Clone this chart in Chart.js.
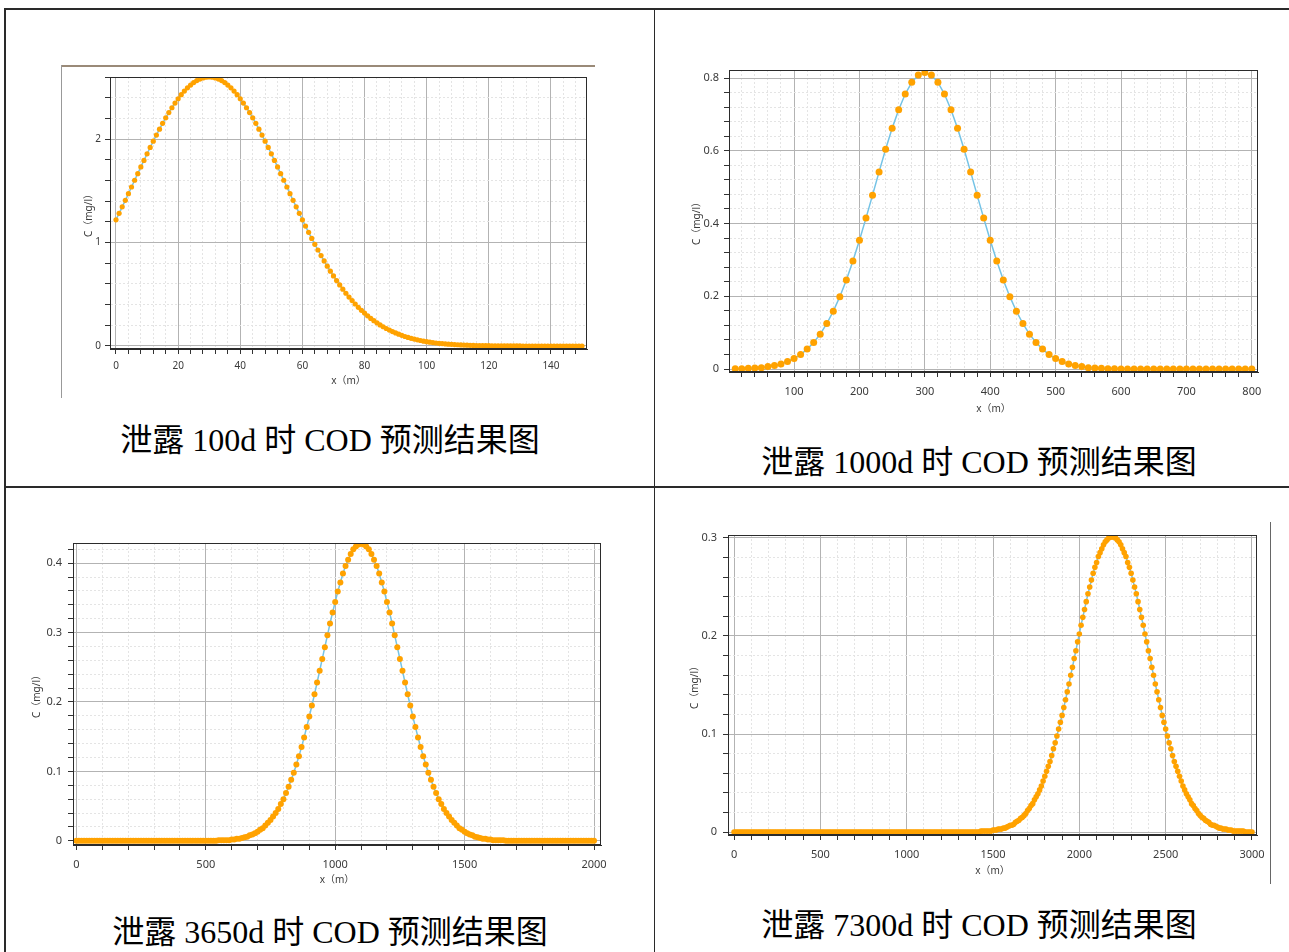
<!DOCTYPE html>
<html><head><meta charset="utf-8">
<script src="https://cdn.jsdelivr.net/npm/chart.js@4.4.1/dist/chart.umd.min.js"></script>
<style>
html,body{margin:0;padding:0;background:#fff;}
body{width:1289px;height:952px;position:relative;overflow:hidden;}
.ln{position:absolute;background:#2a2a2a;}
canvas{position:absolute;}
.cap{position:absolute;text-align:center;font-family:"Liberation Serif","Noto Sans CJK SC",serif;font-size:32px;line-height:40px;color:#000;white-space:nowrap;}
</style></head><body>
<div class="ln" style="left:4px;top:8px;width:1285px;height:2px;"></div>
<div class="ln" style="left:4px;top:8px;width:2px;height:944px;"></div>
<div class="ln" style="left:654px;top:8px;width:1px;height:944px;"></div>
<div class="ln" style="left:4px;top:486px;width:1285px;height:2px;"></div>
<div class="ln" style="left:61px;top:65px;width:534px;height:1.5px;background:#9a8a78;"></div>
<div class="ln" style="left:61px;top:65px;width:1px;height:333px;background:#999;"></div>
<div class="ln" style="left:1270px;top:522px;width:1px;height:362px;background:#666;"></div>

<canvas id="c1"></canvas>
<canvas id="c2"></canvas>
<canvas id="c3"></canvas>
<canvas id="c4"></canvas>

<div class="cap" style="left:5px;width:650px;top:420px;">泄露 100d 时 COD 预测结果图</div>
<div class="cap" style="left:655px;width:648px;top:442px;">泄露 1000d 时 COD 预测结果图</div>
<div class="cap" style="left:5px;width:650px;top:912px;">泄露 3650d 时 COD 预测结果图</div>
<div class="cap" style="left:655px;width:648px;top:905px;">泄露 7300d 时 COD 预测结果图</div>

<script>
// ---------- data: leakage 100 d ----------
const x100d = [
0,1,2,3,4,5,6,7,8,9,
10,11,12,13,14,15,16,17,18,19,
20,21,22,23,24,25,26,27,28,29,
30,31,32,33,34,35,36,37,38,39,
40,41,42,43,44,45,46,47,48,49,
50,51,52,53,54,55,56,57,58,59,
60,61,62,63,64,65,66,67,68,69,
70,71,72,73,74,75,76,77,78,79,
80,81,82,83,84,85,86,87,88,89,
90,91,92,93,94,95,96,97,98,99,
100,101,102,103,104,105,106,107,108,109,
110,111,112,113,114,115,116,117,118,119,
120,121,122,123,124,125,126,127,128,129,
130,131,132,133,134,135,136,137,138,139,
140,141,142,143,144,145,146,147,148,149,
150];
const c100d = [
1.220,1.282,1.345,1.408,1.472,1.537,1.602,1.666,1.731,1.794,
1.857,1.919,1.980,2.039,2.096,2.152,2.205,2.256,2.303,2.348,
2.390,2.429,2.464,2.495,2.522,2.546,2.565,2.580,2.591,2.598,
2.600,2.598,2.591,2.580,2.565,2.546,2.522,2.495,2.464,2.429,
2.390,2.348,2.303,2.256,2.205,2.152,2.096,2.039,1.980,1.919,
1.857,1.794,1.731,1.666,1.602,1.537,1.472,1.408,1.345,1.282,
1.220,1.159,1.099,1.040,0.983,0.928,0.874,0.822,0.772,0.723,
0.677,0.632,0.590,0.549,0.510,0.473,0.439,0.406,0.374,0.345,
0.318,0.292,0.267,0.245,0.224,0.204,0.186,0.169,0.154,0.139,
0.126,0.114,0.103,0.092,0.083,0.074,0.067,0.060,0.053,0.047,
0.042,0.037,0.033,0.029,0.026,0.023,0.020,0.018,0.016,0.014,
0.012,0.010,0.009,0.008,0.007,0.006,0.005,0.004,0.004,0.003,
0.003,0.002,0.002,0.002,0.002,0.001,0.001,0.001,0.001,0.001,
0.001,0,0,0,0,0,0,0,0,0,
0,0,0,0,0,0,0,0,0,0,
0];
const xMajor100d = [0,20,40,60,80,100,120,140];
const yMajor100d = [0,1,2];

// ---------- data: leakage 1000 d ----------
const x1000d = [
10,20,30,40,50,60,70,80,90,100,
110,120,130,140,150,160,170,180,190,200,
210,220,230,240,250,260,270,280,290,300,
310,320,330,340,350,360,370,380,390,400,
410,420,430,440,450,460,470,480,490,500,
510,520,530,540,550,560,570,580,590,600,
610,620,630,640,650,660,670,680,690,700,
710,720,730,740,750,760,770,780,790,800];
const c1000d = [
0.001,0.001,0.002,0.003,0.004,0.007,0.010,0.014,0.021,0.029,
0.040,0.055,0.073,0.096,0.125,0.159,0.199,0.245,0.297,0.354,
0.415,0.478,0.542,0.604,0.662,0.713,0.756,0.788,0.808,0.815,
0.808,0.788,0.756,0.713,0.662,0.604,0.542,0.478,0.415,0.354,
0.297,0.245,0.199,0.159,0.125,0.096,0.073,0.055,0.040,0.029,
0.021,0.014,0.010,0.007,0.004,0.003,0.002,0.001,0.001,0,
0,0,0,0,0,0,0,0,0,0,
0,0,0,0,0,0,0,0,0,0];
const xMajor1000d = [100,200,300,400,500,600,700,800];
const yMajor1000d = [0,0.2,0.4,0.6,0.8];

// ---------- data: leakage 3650 d ----------
const x3650d = [
0,10,20,30,40,50,60,70,80,90,
100,110,120,130,140,150,160,170,180,190,
200,210,220,230,240,250,260,270,280,290,
300,310,320,330,340,350,360,370,380,390,
400,410,420,430,440,450,460,470,480,490,
500,510,520,530,540,550,560,570,580,590,
600,610,620,630,640,650,660,670,680,690,
700,710,720,730,740,750,760,770,780,790,
800,810,820,830,840,850,860,870,880,890,
900,910,920,930,940,950,960,970,980,990,
1000,1010,1020,1030,1040,1050,1060,1070,1080,1090,
1100,1110,1120,1130,1140,1150,1160,1170,1180,1190,
1200,1210,1220,1230,1240,1250,1260,1270,1280,1290,
1300,1310,1320,1330,1340,1350,1360,1370,1380,1390,
1400,1410,1420,1430,1440,1450,1460,1470,1480,1490,
1500,1510,1520,1530,1540,1550,1560,1570,1580,1590,
1600,1610,1620,1630,1640,1650,1660,1670,1680,1690,
1700,1710,1720,1730,1740,1750,1760,1770,1780,1790,
1800,1810,1820,1830,1840,1850,1860,1870,1880,1890,
1900,1910,1920,1930,1940,1950,1960,1970,1980,1990,
2000];
const c3650d = [
0,0,0,0,0,0,0,0,0,0,
0,0,0,0,0,0,0,0,0,0,
0,0,0,0,0,0,0,0,0,0,
0,0,0,0,0,0,0,0,0,0,
0,0,0,0,0,0,0,0,0,0,
0,0,0,0,0,0.001,0.001,0.001,0.001,0.001,
0.002,0.002,0.003,0.003,0.004,0.005,0.006,0.008,0.009,0.011,
0.013,0.016,0.018,0.022,0.026,0.030,0.035,0.040,0.046,0.053,
0.060,0.069,0.078,0.088,0.098,0.110,0.122,0.135,0.149,0.164,
0.179,0.195,0.211,0.228,0.245,0.262,0.279,0.296,0.313,0.329,
0.344,0.359,0.372,0.385,0.396,0.405,0.413,0.420,0.424,0.427,
0.428,0.427,0.424,0.420,0.413,0.405,0.396,0.385,0.372,0.359,
0.344,0.329,0.313,0.296,0.279,0.262,0.245,0.228,0.211,0.195,
0.179,0.164,0.149,0.135,0.122,0.110,0.098,0.088,0.078,0.069,
0.060,0.053,0.046,0.040,0.035,0.030,0.026,0.022,0.018,0.016,
0.013,0.011,0.009,0.008,0.006,0.005,0.004,0.003,0.003,0.002,
0.002,0.001,0.001,0.001,0.001,0.001,0,0,0,0,
0,0,0,0,0,0,0,0,0,0,
0,0,0,0,0,0,0,0,0,0,
0,0,0,0,0,0,0,0,0,0,
0];
const xMajor3650d = [0,500,1000,1500,2000];
const yMajor3650d = [0,0.1,0.2,0.3,0.4];

// ---------- data: leakage 7300 d ----------
const x7300d = [
0,10,20,30,40,50,60,70,80,90,
100,110,120,130,140,150,160,170,180,190,
200,210,220,230,240,250,260,270,280,290,
300,310,320,330,340,350,360,370,380,390,
400,410,420,430,440,450,460,470,480,490,
500,510,520,530,540,550,560,570,580,590,
600,610,620,630,640,650,660,670,680,690,
700,710,720,730,740,750,760,770,780,790,
800,810,820,830,840,850,860,870,880,890,
900,910,920,930,940,950,960,970,980,990,
1000,1010,1020,1030,1040,1050,1060,1070,1080,1090,
1100,1110,1120,1130,1140,1150,1160,1170,1180,1190,
1200,1210,1220,1230,1240,1250,1260,1270,1280,1290,
1300,1310,1320,1330,1340,1350,1360,1370,1380,1390,
1400,1410,1420,1430,1440,1450,1460,1470,1480,1490,
1500,1510,1520,1530,1540,1550,1560,1570,1580,1590,
1600,1610,1620,1630,1640,1650,1660,1670,1680,1690,
1700,1710,1720,1730,1740,1750,1760,1770,1780,1790,
1800,1810,1820,1830,1840,1850,1860,1870,1880,1890,
1900,1910,1920,1930,1940,1950,1960,1970,1980,1990,
2000,2010,2020,2030,2040,2050,2060,2070,2080,2090,
2100,2110,2120,2130,2140,2150,2160,2170,2180,2190,
2200,2210,2220,2230,2240,2250,2260,2270,2280,2290,
2300,2310,2320,2330,2340,2350,2360,2370,2380,2390,
2400,2410,2420,2430,2440,2450,2460,2470,2480,2490,
2500,2510,2520,2530,2540,2550,2560,2570,2580,2590,
2600,2610,2620,2630,2640,2650,2660,2670,2680,2690,
2700,2710,2720,2730,2740,2750,2760,2770,2780,2790,
2800,2810,2820,2830,2840,2850,2860,2870,2880,2890,
2900,2910,2920,2930,2940,2950,2960,2970,2980,2990,
3000];
const c7300d = [
0,0,0,0,0,0,0,0,0,0,
0,0,0,0,0,0,0,0,0,0,
0,0,0,0,0,0,0,0,0,0,
0,0,0,0,0,0,0,0,0,0,
0,0,0,0,0,0,0,0,0,0,
0,0,0,0,0,0,0,0,0,0,
0,0,0,0,0,0,0,0,0,0,
0,0,0,0,0,0,0,0,0,0,
0,0,0,0,0,0,0,0,0,0,
0,0,0,0,0,0,0,0,0,0,
0,0,0,0,0,0,0,0,0,0,
0,0,0,0,0,0,0,0,0,0,
0,0,0,0,0,0,0,0,0,0,
0,0,0,0,0,0,0,0,0,0,
0,0,0,0.001,0.001,0.001,0.001,0.001,0.001,0.001,
0.002,0.002,0.002,0.003,0.003,0.003,0.004,0.004,0.005,0.006,
0.007,0.007,0.008,0.010,0.011,0.012,0.014,0.015,0.017,0.019,
0.022,0.024,0.027,0.029,0.033,0.036,0.039,0.043,0.047,0.052,
0.057,0.062,0.067,0.072,0.078,0.085,0.091,0.098,0.105,0.112,
0.119,0.127,0.135,0.143,0.151,0.160,0.168,0.177,0.185,0.194,
0.202,0.211,0.219,0.227,0.235,0.243,0.250,0.257,0.264,0.270,
0.275,0.281,0.285,0.289,0.293,0.296,0.298,0.300,0.301,0.301,
0.301,0.300,0.298,0.296,0.293,0.289,0.285,0.281,0.275,0.270,
0.264,0.257,0.250,0.243,0.235,0.227,0.219,0.211,0.202,0.194,
0.185,0.177,0.168,0.160,0.151,0.143,0.135,0.127,0.119,0.112,
0.105,0.098,0.091,0.085,0.078,0.072,0.067,0.062,0.057,0.052,
0.047,0.043,0.039,0.036,0.033,0.029,0.027,0.024,0.022,0.019,
0.017,0.015,0.014,0.012,0.011,0.010,0.008,0.007,0.007,0.006,
0.005,0.004,0.004,0.003,0.003,0.003,0.002,0.002,0.002,0.001,
0.001,0.001,0.001,0.001,0.001,0.001,0,0,0,0,
0];
const xMajor7300d = [0,500,1000,1500,2000,2500,3000];
const yMajor7300d = [0,0.1,0.2,0.3];

const X_TITLE = 'x（m）';
const Y_TITLE = 'C（mg/l）';

// ---------- rendering ----------
const FONT = '"Noto Sans", "Noto Sans CJK SC", sans-serif';
const isMajor = (v, arr) => arr.some(m => Math.abs(m - v) < 1e-7);
const fmt = v => String(+v.toFixed(3));
function ticksFrom(min, max, step) {
  const out = [];
  for (let k = Math.ceil((min - 1e-9) / step); k * step <= max + 1e-9; k++) out.push({value: +(k * step).toFixed(6)});
  return out;
}
const framePlugin = {
  id: 'frame',
  afterDatasetsDraw(chart) {
    const {ctx, chartArea: a} = chart;
    ctx.save();
    ctx.strokeStyle = '#2b2b2b'; ctx.lineWidth = 1;
    ctx.strokeRect(Math.round(a.left) + 0.5, Math.round(a.top) + 0.5, Math.round(a.right - a.left) - 1, Math.round(a.bottom - a.top) - 1);
    ctx.restore();
  }
};

function makeChart(id, g, xs, ys, s) {
  const data = xs.map((x, i) => ({x: x, y: ys[i]}));
  const cv = document.getElementById(id);
  cv.width = g.w; cv.height = g.h;
  cv.style.left = g.left + 'px'; cv.style.top = g.top + 'px';
  cv.style.width = g.w + 'px'; cv.style.height = g.h + 'px';
  const yBoxLeft = g.yTitleX - 6, xBoxBottom = g.xTitleY + 6;
  const gridOf = majors => ({
    color: c => (c.tick && isMajor(c.tick.value, majors)) ? '#b3b3b3' : '#e4e4e4',
    lineWidth: 1, drawTicks: true, tickLength: 5, tickColor: '#333', tickWidth: 1
  });
  const borderOf = majors => ({
    display: true, color: '#2b2b2b', width: 1,
    dash: c => (c.tick && !isMajor(c.tick.value, majors)) ? [2, 2] : []
  });
  new Chart(cv, {
    type: 'line',
    data: {datasets: [{
      data: data, showLine: true, borderColor: '#74c3e6', borderWidth: 1.5,
      pointRadius: s.r, pointHoverRadius: s.r, pointBackgroundColor: '#ffa200',
      pointBorderColor: '#ffa200', pointBorderWidth: 0, tension: 0, fill: false
    }]},
    options: {
      responsive: false, animation: false, devicePixelRatio: 1, events: [],
      layout: {padding: {left: yBoxLeft - g.left, top: g.plot.t - g.top, right: g.left + g.w - g.plot.r, bottom: g.top + g.h - xBoxBottom}},
      plugins: {legend: {display: false}, tooltip: {enabled: false}},
      scales: {
        x: {
          type: 'linear', min: s.xMin, max: s.xMax,
          afterBuildTicks: ax => { ax.ticks = ticksFrom(s.xMin, s.xMax, s.xStep); },
          afterFit: ax => { ax.height = xBoxBottom - g.plot.b; },
          ticks: {autoSkip: false, maxRotation: 0, minRotation: 0, padding: s.xPad, color: '#3a3a3a',
                  font: {family: FONT, size: s.fs}, callback: v => isMajor(v, s.xMajor) ? fmt(v) : ''},
          grid: gridOf(s.xMajor), border: borderOf(s.xMajor),
          title: {display: true, text: X_TITLE, color: '#3a3a3a', font: {family: FONT, size: 10}, padding: 0}
        },
        y: {
          type: 'linear', min: s.yMin, max: s.yMax,
          afterBuildTicks: ax => { ax.ticks = ticksFrom(s.yMin, s.yMax, s.yStep); },
          afterFit: ax => { ax.width = g.plot.l - yBoxLeft; },
          ticks: {autoSkip: false, padding: s.yPad, color: '#3a3a3a',
                  font: {family: FONT, size: s.fs}, callback: v => isMajor(v, s.yMajor) ? fmt(v) : ''},
          grid: gridOf(s.yMajor), border: borderOf(s.yMajor),
          title: {display: true, text: Y_TITLE, color: '#3a3a3a', font: {family: FONT, size: 10}, padding: 0}
        }
      }
    },
    plugins: [framePlugin]
  });
}

makeChart('c1', {left: 62, top: 66, w: 532, h: 330, plot: {l: 110, t: 77, r: 587, b: 349}, yTitleX: 89, xTitleY: 381},
  x100d, c100d, {xMin: -1.93, xMax: 151.6, yMin: -0.029, yMax: 2.6, xStep: 4, yStep: 0.2, fs: 10, xPad: 6, yPad: 4, r: 2.6, xMajor: xMajor100d, yMajor: yMajor100d});
makeChart('c2', {left: 680, top: 55, w: 600, h: 370, plot: {l: 729, t: 70, r: 1258, b: 372}, yTitleX: 697, xTitleY: 409},
  x1000d, c1000d, {xMin: 0.5, xMax: 809.5, yMin: -0.008, yMax: 0.822, xStep: 20, yStep: 0.04, fs: 11, xPad: 8, yPad: 5, r: 3.5, xMajor: xMajor1000d, yMajor: yMajor1000d});
makeChart('c3', {left: 20, top: 525, w: 600, h: 375, plot: {l: 73, t: 543, r: 601, b: 845}, yTitleX: 37, xTitleY: 880},
  x3650d, c3650d, {xMin: -13, xMax: 2027, yMin: -0.006, yMax: 0.429, xStep: 100, yStep: 0.02, fs: 11, xPad: 8, yPad: 6, r: 3, xMajor: xMajor3650d, yMajor: yMajor3650d});
makeChart('c4', {left: 680, top: 518, w: 600, h: 375, plot: {l: 728, t: 535, r: 1257, b: 835}, yTitleX: 695, xTitleY: 871},
  x7300d, c7300d, {xMin: -35, xMax: 3029, yMin: -0.003, yMax: 0.303, xStep: 100, yStep: 0.02, fs: 11, xPad: 8, yPad: 6, r: 2.8, xMajor: xMajor7300d, yMajor: yMajor7300d});
</script>
</body></html>
